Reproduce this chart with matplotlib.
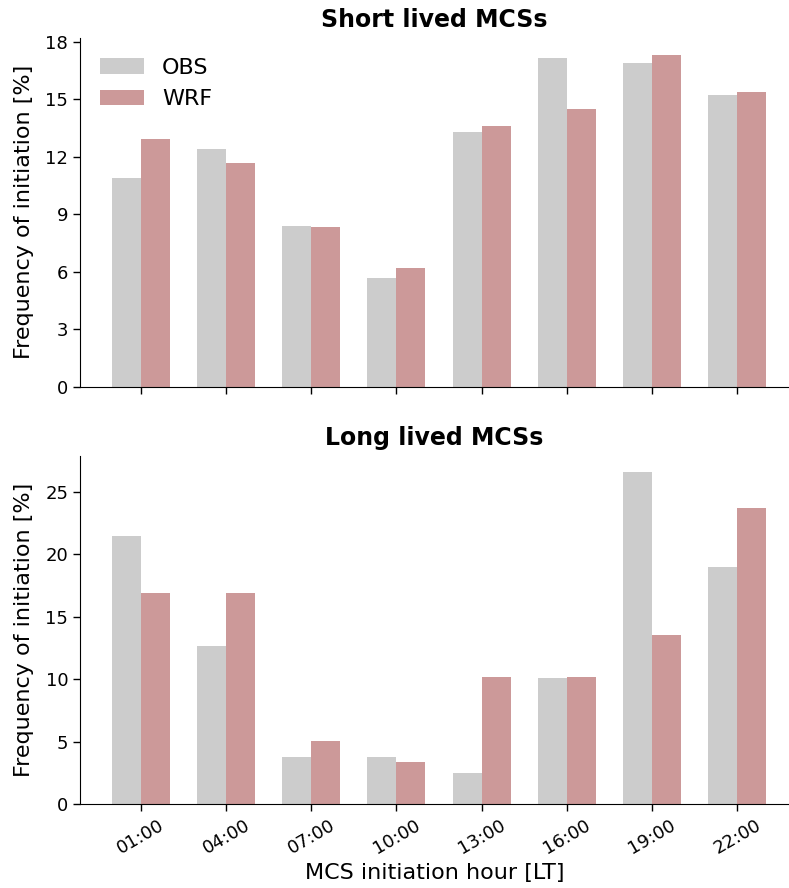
import numpy as np
import matplotlib
matplotlib.use('Agg')
import matplotlib.pyplot as plt

# initiation hours (local time) and frequency of initiation [%]
hours = ['01:00', '04:00', '07:00', '10:00', '13:00', '16:00', '19:00', '22:00']

short_obs = [10.9, 12.42, 8.39, 5.67, 13.31, 17.18, 16.89, 15.25]
short_wrf = [12.94, 11.69, 8.34, 6.2, 13.63, 14.51, 17.34, 15.4]

long_obs = [21.5, 12.66, 3.8, 3.8, 2.53, 10.13, 26.58, 18.99]
long_wrf = [16.95, 16.95, 5.08, 3.39, 10.17, 10.17, 13.56, 23.73]

width = 0.34
x = np.arange(len(hours))

fig = plt.figure(figsize=(7.89, 8.88), dpi=100)
ax1 = fig.add_axes([80/789, 1-386.7/888, 1-80/789, (386.7-38)/888])
ax2 = fig.add_axes([80/789, 1-804.3/888, 1-80/789, (804.3-455.7)/888])

for ax, obs, wrf, title in [(ax1, short_obs, short_wrf, 'Short lived MCSs'),
                            (ax2, long_obs, long_wrf, 'Long lived MCSs')]:
    ax.bar(x - width/2, obs, width, color='grey', alpha=0.4, label='OBS')
    ax.bar(x + width/2, wrf, width, color='maroon', alpha=0.4, label='WRF')
    ax.set_title(title, fontsize=17, fontweight='bold', pad=8)
    ax.set_ylabel('Frequency of initiation [%]', fontsize=16, labelpad=8)
    ax.set_xticks(x)
    ax.tick_params(labelsize=13, length=5, width=1)
    ax.spines['top'].set_visible(False)
    ax.spines['right'].set_visible(False)
    ax.set_xlim(-0.716, 7.61)

ax1.set_yticks([0, 3, 6, 9, 12, 15, 18])
ax1.set_xticklabels([])
ax2.set_yticks([0, 5, 10, 15, 20, 25])
ax2.set_xticklabels(hours, rotation=30)
ax2.set_xlabel('MCS initiation hour [LT]', fontsize=16)

ax1.legend(frameon=False, fontsize=16, loc='upper left')

fig.savefig('out.png', dpi=100)
